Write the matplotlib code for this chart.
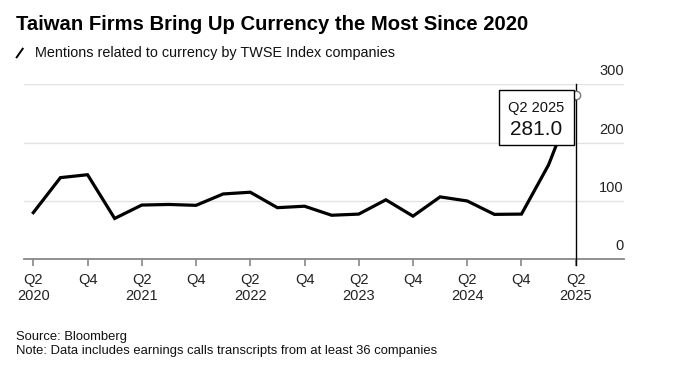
import matplotlib
matplotlib.use("Agg")
import matplotlib.pyplot as plt
import matplotlib.transforms as mtransforms
from matplotlib.patches import Rectangle
from matplotlib.lines import Line2D

plt.rcParams['font.family'] = ['Liberation Sans', 'DejaVu Sans']

# quarterly data, Q2 2020 .. Q2 2025
quarters = ["Q2 2020", "Q3 2020", "Q4 2020", "Q1 2021", "Q2 2021", "Q3 2021", "Q4 2021",
            "Q1 2022", "Q2 2022", "Q3 2022", "Q4 2022", "Q1 2023", "Q2 2023", "Q3 2023",
            "Q4 2023", "Q1 2024", "Q2 2024", "Q3 2024", "Q4 2024", "Q1 2025", "Q2 2025"]
mentions = [80, 140, 145, 70, 93, 94, 92.5, 112, 115, 88.5, 91, 75.5, 77.5, 102,
            74, 107, 100, 77, 77.5, 162, 281]
tick_labels = ["Q2\n2020", "Q4", "Q2\n2021", "Q4", "Q2\n2022", "Q4", "Q2\n2023", "Q4",
               "Q2\n2024", "Q4", "Q2\n2025"]
y_ticks = [0, 100, 200, 300]

W, H = 676, 366
fig = plt.figure(figsize=(W / 100, H / 100), dpi=100)
ax = fig.add_axes([24 / W, (H - 259.3) / H, 600 / W, 175 / H])

x = list(range(len(mentions)))
ax.set_xlim(-0.343, 21.78)
ax.set_ylim(0, 300)

for s in ax.spines.values():
    s.set_visible(False)
for v in y_ticks[1:]:
    ax.axhline(v, color='#e2e2e2', lw=1.0, zorder=1)
ax.axhline(0, color='#888888', lw=1.3, zorder=2, clip_on=False)

ax.set_yticks([])
ax.set_xticks(x[::2])
ax.set_xticklabels(tick_labels, fontsize=10.5, color='#222222', linespacing=1.15)
ax.tick_params(axis='x', length=5, width=1.2, color='#888888', pad=5)

# y labels sit on the right, just above each gridline
lift = mtransforms.ScaledTranslation(0, 0.06, fig.dpi_scale_trans)
for v in y_ticks:
    ax.text(1.0, v, str(v), transform=ax.get_yaxis_transform() + lift, ha='right', va='bottom',
            fontsize=10.5, color='#222222')

ax.plot(x, mentions, color='black', lw=2.3, solid_joinstyle='miter', zorder=3)

# highlight vertical line at last point
ax.plot([x[-1], x[-1]], [-0.03, 1.0], transform=ax.get_xaxis_transform(),
        color='black', lw=1.0, zorder=4, clip_on=False)
ax.plot(x[-1], mentions[-1], 'o', ms=6, mfc='white', mec='#777777', mew=1.0, zorder=5)

trans = fig.dpi_scale_trans + mtransforms.ScaledTranslation(x[-1], mentions[-1], ax.transData)
ax.add_patch(Rectangle((-0.764, -0.493), 0.744, 0.543, transform=trans, facecolor='white',
                       edgecolor='black', lw=1.0, zorder=6, clip_on=False))
ax.text(-0.397, -0.167, quarters[-1], transform=trans, ha='center', va='baseline',
        fontsize=10.5, color='#111111', zorder=7)
ax.text(-0.392, -0.40, f"{mentions[-1]:.1f}", transform=trans, ha='center', va='baseline',
        fontsize=15, color='#111111', zorder=7)

# headings
fig.text(16 / W, 1 - 30 / H, "Taiwan Firms Bring Up Currency the Most Since 2020",
         fontsize=14.6, fontweight='bold', color='black', va='baseline', ha='left')
fig.add_artist(Line2D([16.7 / W, 22.7 / W], [1 - 57.3 / H, 1 - 48.7 / H], color='black', lw=1.4,
                      transform=fig.transFigure))
fig.text(35 / W, 1 - 57.3 / H, "Mentions related to currency by TWSE Index companies",
         fontsize=10.4, color='#111111', va='baseline', ha='left')

fig.text(16 / W, 1 - 340 / H, "Source: Bloomberg", fontsize=9.4, color='#111111', va='baseline')
fig.text(16 / W, 1 - 354 / H, "Note: Data includes earnings calls transcripts from at least 36 companies",
         fontsize=9.4, color='#111111', va='baseline')

fig.savefig("out.png", dpi=100)
